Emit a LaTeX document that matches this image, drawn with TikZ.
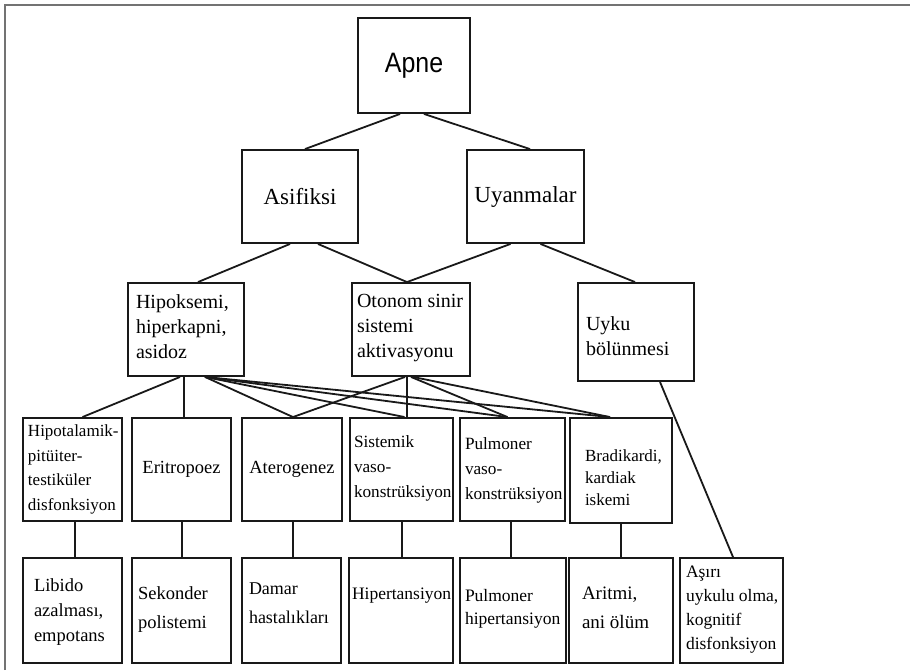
\documentclass[tikz,border=0pt]{standalone}
\usepackage{fontspec}
\setmainfont{Liberation Serif}
\newfontfamily\apnefont{Liberation Sans}
\tikzset{
  box/.style={draw=black!90, line width=1.9pt, inner sep=0pt, rectangle, fill=white},
  link/.style={draw=black!90, line width=1.8pt},
  frameline/.style={draw=black!55, line width=2.4pt}
}
% width, height, top space, left inset, font, text
\newcommand{\cellbox}[6]{\begin{minipage}[c][#2pt][t]{#1pt}\vspace*{#3pt}\raggedright\setlength{\leftskip}{#4pt}\setlength{\parindent}{0pt}#5#6\par\end{minipage}}
\newcommand{\fth}{\fontsize{20}{25}\selectfont}
\begin{document}
\begin{tikzpicture}[x=1pt,y=-1pt]
\useasboundingbox (0,0) rectangle (910,670);
\draw[frameline] (5,670) -- (5,5) -- (910,5);

% level 1-2
\node[box, minimum width=112pt, minimum height=95pt] (apne) at (414,65.5) {\raisebox{-6pt}{\apnefont\fontsize{26}{30}\selectfont\scalebox{0.96}[1.08]{Apne}}};
\node[box, minimum width=116pt, minimum height=93pt] (asif) at (300,196.5) {\raisebox{-3pt}{\fontsize{23}{27}\selectfont Asifiksi}};
\node[box, minimum width=117pt, minimum height=93pt] (uyan) at (525.5,196.5) {\raisebox{-2pt}{\fontsize{23}{27}\selectfont Uyanmalar}};

% level 3
\node[box] (hipo) at (186,329.5) {\cellbox{116}{93}{12}{8}{\fth}{Hipoksemi,\\hiperkapni,\\asidoz}};
\node[box] (oton) at (411,329.5) {\cellbox{118}{93}{11}{5}{\fth}{Otonom sinir\\sistemi\\aktivasyonu}};
\node[box] (uyku) at (636,332) {\cellbox{116}{98}{34}{8}{\fth}{Uyku\\bölünmesi}};

% level 4
\node[box] (hipot) at (72.5,469.5) {\cellbox{99}{103}{7}{5}{\fontsize{17}{24.5}\selectfont}{Hipotalamik-\\pitüiter-\\testiküler\\disfonksiyon}};
\node[box, minimum width=99pt, minimum height=103pt] (erit) at (181.5,469.5) {\fontsize{18.5}{24}\selectfont Eritropoez};
\node[box, minimum width=100pt, minimum height=103pt] (ater) at (292,469.5) {\fontsize{18.5}{24}\selectfont Aterogenez};
\node[box] (sist) at (401.5,469.5) {\cellbox{103}{103}{18}{4}{\fontsize{17.2}{25}\selectfont}{Sistemik\\vaso-\\konstrüksiyon}};
\node[box] (pvaso) at (512.5,469.5) {\cellbox{105}{103}{20}{5}{\fontsize{17.2}{25}\selectfont}{Pulmoner\\vaso-\\konstrüksiyon}};
\node[box] (brad) at (621,470.5) {\cellbox{102}{105}{32}{15}{\fontsize{17}{22}\selectfont}{Bradikardi,\\kardiak\\iskemi}};

% level 5
\node[box] (lib) at (72.5,610.5) {\cellbox{99}{105}{21}{11}{\fontsize{18.5}{25}\selectfont}{Libido\\azalması,\\empotans}};
\node[box] (sek) at (181.5,610.5) {\cellbox{99}{105}{29}{6}{\fontsize{18.5}{29}\selectfont}{Sekonder\\polistemi}};
\node[box] (dam) at (291.5,610.5) {\cellbox{99}{105}{25}{7}{\fontsize{18}{29}\selectfont}{Damar\\hastalıkları}};
\node[box] (hip) at (401,610.5) {\cellbox{104}{105}{30}{3}{\fontsize{17.5}{25}\selectfont}{Hipertansiyon}};
\node[box] (pulh) at (513,610.5) {\cellbox{106}{105}{31}{5}{\fontsize{17.5}{23}\selectfont}{Pulmoner\\hipertansiyon}};
\node[box] (arit) at (621,610.5) {\cellbox{104}{105}{29}{13}{\fontsize{19}{29}\selectfont}{Aritmi,\\ani ölüm}};
\node[box] (asiri) at (731.5,610.5) {\cellbox{103}{105}{8}{6}{\fontsize{17.5}{24}\selectfont}{Aşırı\\uykulu olma,\\kognitif\\disfonksiyon}};

% connectors level 1-3
\draw[link] ([xshift=-14pt]apne.south) -- ([xshift=5pt]asif.north);
\draw[link] ([xshift=10pt]apne.south) -- ([xshift=4.5pt]uyan.north);
\draw[link] ([xshift=-10pt]asif.south) -- ([xshift=12pt]hipo.north);
\draw[link] ([xshift=18pt]asif.south) -- ([xshift=-4pt]oton.north);
\draw[link] ([xshift=-15pt]uyan.south) -- ([xshift=-4pt]oton.north);
\draw[link] ([xshift=15pt]uyan.south) -- ([xshift=-1pt]uyku.north);

% connectors level 3-4
\draw[link] ([xshift=-6pt]hipo.south) -- ([xshift=10pt]hipot.north);
\draw[link] ([xshift=-2pt]hipo.south) -- ([xshift=2.5pt]erit.north);
\draw[link] ([xshift=19pt]hipo.south) -- ([xshift=1pt]ater.north);
\draw[link] ([xshift=19pt]hipo.south) -- ([xshift=3pt]sist.north);
\draw[link] ([xshift=19pt]hipo.south) -- ([xshift=-5pt]pvaso.north);
\draw[link] ([xshift=19pt]hipo.south) -- ([xshift=-11pt]brad.north);
\draw[link] ([xshift=-6pt]oton.south) -- ([xshift=1pt]ater.north);
\draw[link] ([xshift=-4pt]oton.south) -- ([xshift=5.5pt]sist.north);
\draw[link] (oton.south) -- ([xshift=-5pt]pvaso.north);
\draw[link] ([xshift=2pt]oton.south) -- ([xshift=-11pt]brad.north);
\draw[link] ([xshift=24pt]uyku.south) -- ([xshift=1.5pt]asiri.north);

% connectors level 4-5
\draw[link] ([xshift=2.5pt]hipot.south) -- ([xshift=2.5pt]lib.north);
\draw[link] ([xshift=0.5pt]erit.south) -- ([xshift=0.5pt]sek.north);
\draw[link] ([xshift=1pt]ater.south) -- ([xshift=1.5pt]dam.north);
\draw[link] ([xshift=0.5pt]sist.south) -- ([xshift=1pt]hip.north);
\draw[link] ([xshift=-1.5pt]pvaso.south) -- ([xshift=-2pt]pulh.north);
\draw[link] (brad.south) -- (arit.north);
\end{tikzpicture}
\end{document}
